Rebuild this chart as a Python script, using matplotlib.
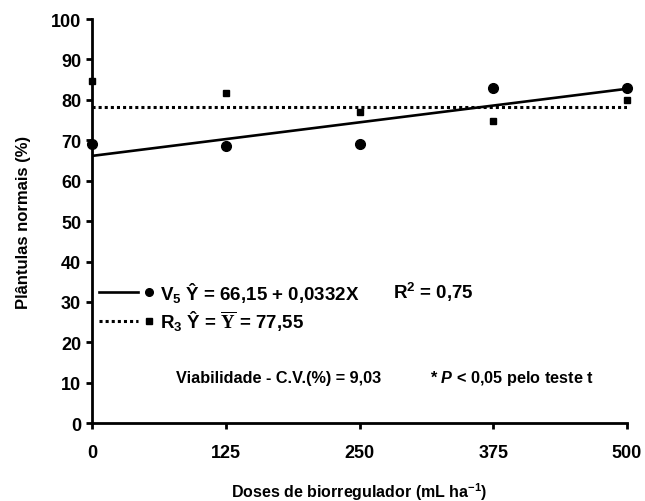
import numpy as np
import matplotlib.pyplot as plt

plt.rcParams['font.family'] = 'Liberation Sans'
plt.rcParams['font.weight'] = 'bold'
plt.rcParams['mathtext.fontset'] = 'custom'
plt.rcParams['mathtext.rm'] = 'Liberation Sans:bold'
plt.rcParams['mathtext.it'] = 'Liberation Sans:bold:italic'
plt.rcParams['mathtext.cal'] = 'Liberation Serif'

# doses (mL/ha)
doses = [0, 125, 250, 375, 500]
# plantulas normais (%)
v5 = [69.1, 68.7, 69.1, 82.9, 82.9]
r3 = [84.7, 81.8, 76.9, 74.9, 79.9]
# ajustes
v5_a, v5_b = 66.15, 0.0332
r3_media = 78.3

x_ticks = [0, 125, 250, 375, 500]
y_ticks = list(range(0, 101, 10))

fig = plt.figure(figsize=(6.45, 5.02), dpi=100)
ax = fig.add_axes([0.143, 0.155, 0.829, 0.805])

xx = np.array([0, 500])
ax.plot(xx, v5_a + v5_b * xx, color='black', lw=1.9, solid_capstyle='butt')
ax.plot(xx, [r3_media, r3_media], color='black', lw=2.2, linestyle=(0, (1, 1)))
ax.plot(doses, v5, 'o', color='black', ms=7, clip_on=False, zorder=5)
ax.plot(doses, r3, 's', color='black', ms=4.5, clip_on=False, zorder=5)

ax.set_xlim(0, 500)
ax.set_ylim(0, 100)
ax.set_xticks(x_ticks)
ax.set_yticks(y_ticks)
for s in ['top', 'right']:
    ax.spines[s].set_visible(False)
for s in ['left', 'bottom']:
    ax.spines[s].set_linewidth(2)
ax.tick_params(direction='out', width=2, length=4, labelsize=13, pad=4)
ax.tick_params(axis='x', pad=11)
for lab in ax.get_xticklabels() + ax.get_yticklabels():
    lab.set_fontweight('bold')

ax.set_xlabel('Doses de biorregulador (mL ha$^{-1}$)', fontsize=11.5, fontweight='bold', labelpad=14)
ax.set_ylabel('Plântulas normais (%)', fontsize=12, fontweight='bold', labelpad=14)

# legenda manual
tr = ax.transAxes
ax.plot([0.012, 0.085], [0.325, 0.325], color='black', lw=1.9, transform=tr, clip_on=False)
ax.plot([0.106], [0.325], 'o', color='black', ms=5.5, transform=tr, clip_on=False)
ax.text(0.127, 0.325, 'V$_5$ Ŷ = 66,15 + 0,0332X', transform=tr, fontsize=13.5,
        fontweight='bold', va='center')
ax.text(0.563, 0.325, 'R$^2$ = 0,75', transform=tr, fontsize=13.5, fontweight='bold', va='center')
ax.plot([0.012, 0.085], [0.253, 0.253], color='black', lw=2.2, linestyle=(0, (1, 1)),
        transform=tr, clip_on=False)
ax.plot([0.106], [0.253], 's', color='black', ms=5, transform=tr, clip_on=False)
ax.text(0.127, 0.253, r'R$_3$ Ŷ = $\overline{\mathcal{Y}}$ = 77,55', transform=tr,
        fontsize=13.5, fontweight='bold', va='center')

ax.text(0.157, 0.114, 'Viabilidade - C.V.(%) = 9,03', transform=tr, fontsize=11.7,
        fontweight='bold', va='center')
ax.text(0.632, 0.114, r'* $\mathit{P}$ < 0,05 pelo teste t', transform=tr, fontsize=11.7,
        fontweight='bold', va='center')

fig.savefig('out.png', dpi=100)
